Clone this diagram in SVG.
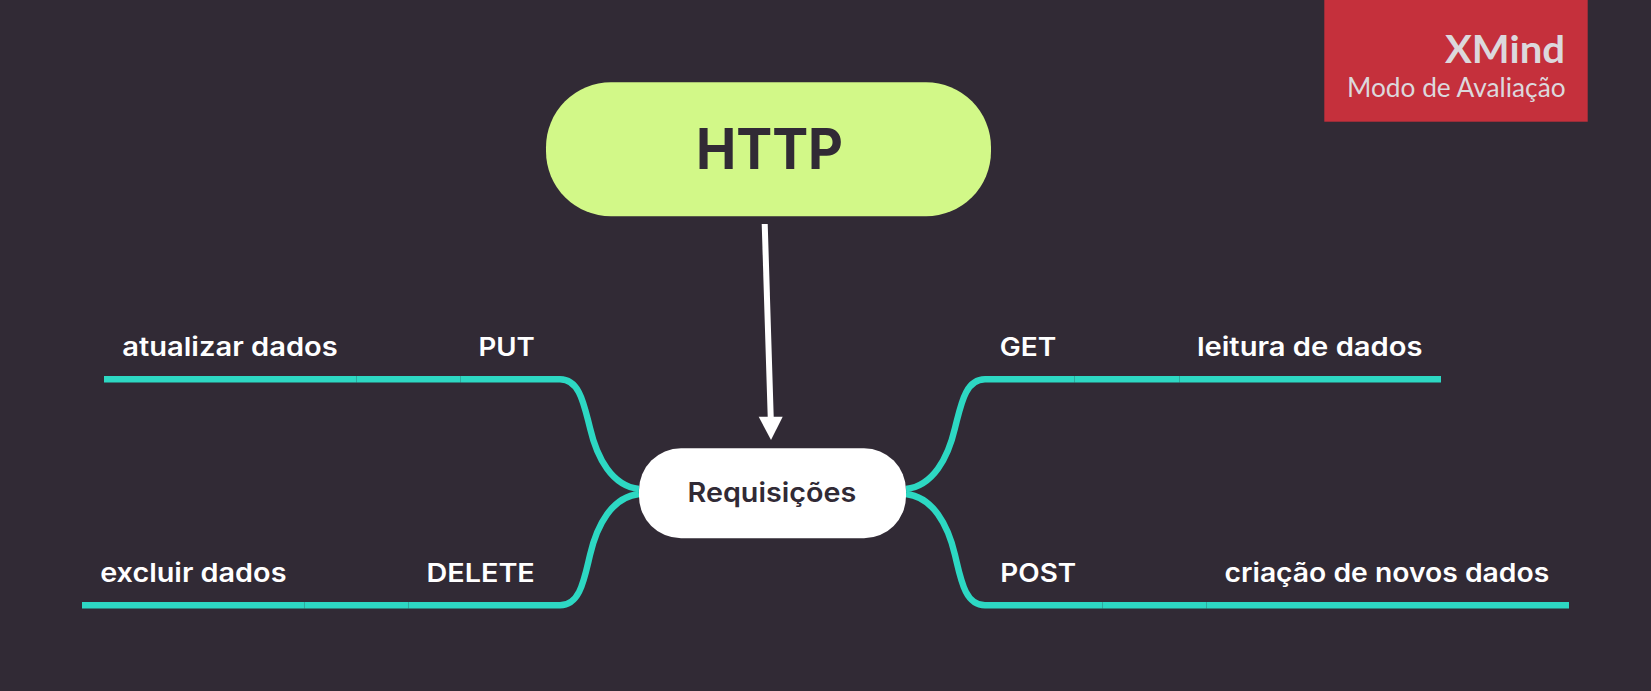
<svg xmlns="http://www.w3.org/2000/svg" width="1651" height="691" viewBox="0 0 1651 691">
<defs>
<style>
.bg{fill:#312a35}
.c{fill:none;stroke:#2dd8c3;stroke-width:6.4}
.t{font-family:"Inter","Liberation Sans",sans-serif;font-weight:600}
.w{fill:#fff;font-size:26px}
.d{fill:#312a35}
.wm{font-family:"Lato","Liberation Sans",sans-serif;fill:#dcd8dc}
</style>
</defs>
<rect class="bg" width="1651" height="691"/>
<g id="connectors">
<path class="c" d="M104 379.3H356.5"/><path class="c" d="M356.5 379.3H460.5"/>
<path class="c" d="M460.5 379.3H560C580 379.3 584 405 590 428C597 458 612 486 639 489"/>
<path class="c" d="M82 605.3H304.5"/><path class="c" d="M304.5 605.3H408.5"/>
<path class="c" d="M408.5 605.3H560C580 605.3 584 580 590 555C597 525 612 497 639 494"/>
<path class="c" d="M1441 379.3H1179.5"/><path class="c" d="M1179.5 379.3H1074.5"/>
<path class="c" d="M1074.5 379.3H985C965 379.3 961 405 955 428C948 458 933 486 906 489"/>
<path class="c" d="M1569 605.3H1206.5"/><path class="c" d="M1206.5 605.3H1102.5"/>
<path class="c" d="M1102.5 605.3H985C965 605.3 961 580 955 555C948 525 933 497 906 494"/>
<path d="M764.7 224L770.7 417" fill="none" stroke="#fff" stroke-width="6"/>
<path d="M758.7 416.7H782.7L771 440Z" fill="#fff"/>
</g>
<g id="node-http">
<rect x="546" y="82.3" width="445" height="134" rx="65" fill="#d2f888"/>
<text class="t d" x="696" y="168.7" font-size="56" font-weight="700" style="font-weight:700" textLength="147" lengthAdjust="spacingAndGlyphs">HTTP</text>
</g>
<g id="node-requisicoes">
<rect x="639" y="448.3" width="267" height="90" rx="42" fill="#fff"/>
<text class="t d" x="687.6" y="502" font-size="27" textLength="168.6" lengthAdjust="spacingAndGlyphs">Requisições</text>
</g>
<g id="node-put"><text class="t w" x="478.5" y="356" textLength="56.3" lengthAdjust="spacingAndGlyphs">PUT</text></g>
<g id="node-atualizar"><text class="t w" x="122.2" y="356" textLength="215.6" lengthAdjust="spacingAndGlyphs">atualizar dados</text></g>
<g id="node-delete"><text class="t w" x="426.5" y="582" textLength="108.3" lengthAdjust="spacingAndGlyphs">DELETE</text></g>
<g id="node-excluir"><text class="t w" x="100.2" y="582" textLength="186.3" lengthAdjust="spacingAndGlyphs">excluir dados</text></g>
<g id="node-get"><text class="t w" x="999.8" y="356" textLength="56.5" lengthAdjust="spacingAndGlyphs">GET</text></g>
<g id="node-leitura"><text class="t w" x="1196.9" y="356" textLength="225.6" lengthAdjust="spacingAndGlyphs">leitura de dados</text></g>
<g id="node-post"><text class="t w" x="1000.3" y="582" textLength="75.9" lengthAdjust="spacingAndGlyphs">POST</text></g>
<g id="node-criacao"><text class="t w" x="1224.5" y="582" textLength="324.7" lengthAdjust="spacingAndGlyphs">criação de novos dados</text></g>
<g id="watermark">
<rect x="1324.3" y="0" width="263.4" height="121.7" fill="#c5303c"/>
<text class="wm" x="1445" y="63.3" font-size="38" font-weight="700" textLength="120" lengthAdjust="spacingAndGlyphs">XMind</text>
<text class="wm" x="1347" y="96.7" font-size="26" textLength="218.6" lengthAdjust="spacingAndGlyphs">Modo de Avaliação</text>
</g>
</svg>
